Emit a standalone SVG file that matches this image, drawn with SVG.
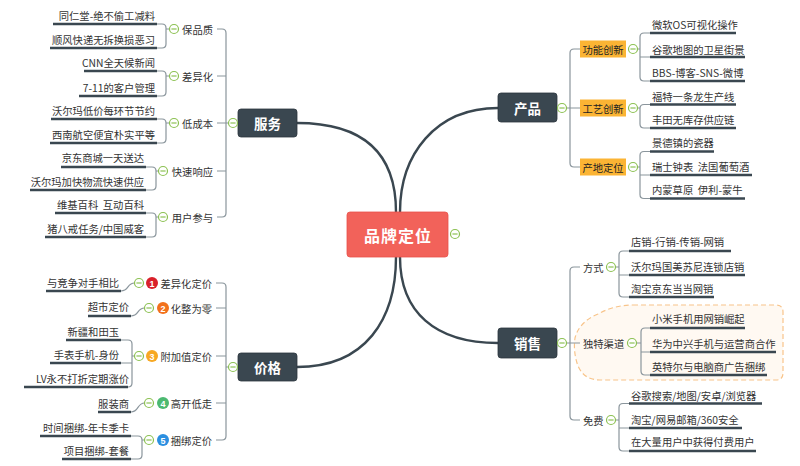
<svg xmlns="http://www.w3.org/2000/svg" xmlns:xlink="http://www.w3.org/1999/xlink" width="800" height="466" viewBox="0 0 800 466">
<defs>
<style>
text{font-family:"Noto Sans CJK SC","Liberation Sans",sans-serif;font-size:10.3px;fill:#333;dominant-baseline:central;white-space:pre}
.e{text-anchor:end}
.m{text-anchor:middle}
.main rect{fill:#3a4750;stroke:#2c363d;stroke-width:0.8}
.main text{fill:#fff;font-size:13.5px;font-weight:bold;text-anchor:middle}
.ob rect{fill:#fbb434}
.ob text{text-anchor:middle;fill:#222}
.ul{stroke:#3a4750;stroke-width:2.4;fill:none}
.cn{stroke:#8a959c;stroke-width:1.2;fill:none}
.big{stroke:#3a4750;stroke-width:2.4;fill:none}
.bd text{fill:#fff;font-family:"Liberation Sans",sans-serif;font-size:9px;font-weight:bold;text-anchor:middle}
</style>
<g id="col"><circle r="4.5" fill="#fff" stroke="#8cc152" stroke-width="1.2"/><path d="M-2.6,0H2.6" stroke="#8cc152" stroke-width="1.2"/></g>
</defs>
<rect width="800" height="466" fill="#fff"/>

<!-- boundary -->
<path d="M633,305 H776 Q783,305 783,312 V373 Q783,380 776,380 H600 Q584,380 578,366 Q573,352 575,338 Q579,322 598,314 Q614,305 633,305 Z" fill="#fff9f2" stroke="#f8c48a" stroke-width="1.2" stroke-dasharray="5,3"/>

<g id="connectors">
<!-- central -->
<path class="big" d="M396,212 C396,155 365,123 297,123"/>
<path class="big" d="M400,212 C400,155 435,108 498,108"/>
<path class="big" d="M396,257 C396,320 365,367 297,367"/>
<path class="big" d="M400,257 C400,312 435,343 498,343"/>
<!-- service trunk -->
<path class="cn" d="M217,29 H222 Q226,29 226,33 V213 Q226,217 222,217 H217 M217,76 H226 M217,123 H228.5 M217,171 H226"/>
<path class="cn" d="M157,24 H162 Q166,24 166,28 V44 Q166,48 162,48 H157 M166,29 H169.5"/>
<path class="cn" d="M157,71 H162 Q166,71 166,75 V92 Q166,96 162,96 H157 M166,76 H169.5"/>
<path class="cn" d="M157,119 H162 Q166,119 166,123 V139 Q166,143 162,143 H157 M166,123 H169.5"/>
<path class="cn" d="M146,167 H152 Q156,167 156,171 V186 Q156,190 152,190 H146 M156,171 H158.5"/>
<path class="cn" d="M146,213 H152 Q156,213 156,217 V233 Q156,237 152,237 H146 M156,217 H158.5"/>
<!-- price trunk -->
<path class="cn" d="M216,283 H222 Q226,283 226,287 V436 Q226,440 222,440 H216 M216,308 H226 M216,356 H226 M216,403 H226 M226,367 H228.5"/>
<path class="cn" d="M121,291 C129,291 127,283 134.5,283"/>
<path class="cn" d="M131,316 C139,316 137,308 144.5,308"/>
<path class="cn" d="M121,340 H128 Q132,340 132,344 V383 Q132,387 128,387 M121,363 H132 M132,356 H134.5"/>
<path class="cn" d="M131,412 C139,412 137,403 144.5,403"/>
<path class="cn" d="M131,436 H138 Q142,436 142,440 V455 Q142,459 138,459 H131 M142,440 H144.5"/>
<!-- product trunk -->
<path class="cn" d="M580,49 H574 Q570,49 570,53 V163 Q570,167 574,167 H580 M566.5,108 H580"/>
<path class="cn" d="M650,33 H644 Q640,33 640,37 V77 Q640,81 644,81 H650 M640,57 H650 M637.5,49 H640"/>
<path class="cn" d="M650,104.5 H644 Q640,104.5 640,108.5 V124 Q640,128 644,128 H650 M637.5,108 H640"/>
<path class="cn" d="M650,151.5 H644 Q640,151.5 640,155.5 V194.5 Q640,198.5 644,198.5 H650 M640,175 H650 M637.5,167 H640"/>
<!-- sales trunk -->
<path class="cn" d="M580,267 H574 Q570,267 570,271 V416 Q570,420 574,420 H580 M566.5,343 H580"/>
<path class="cn" d="M629,251 H623 Q619,251 619,255 V293 Q619,297 623,297 H629 M619,275 H629 M615.5,267 H619"/>
<path class="cn" d="M650,328 H645 Q641,328 641,332 V371 Q641,375 645,375 H650 M641,352 H650 M636.5,343 H641"/>
<path class="cn" d="M629,403.5 H623 Q619,403.5 619,407.5 V447 Q619,451 623,451 H629 M619,428 H629 M615.5,420 H619"/>
</g>

<!-- central -->
<g id="center">
<rect x="347" y="212" width="101" height="45" rx="3" fill="#f2625a" stroke="#e9524a" stroke-width="0.8"/>
<text x="398" y="234.5" class="m" style="fill:#fff;font-size:16px;font-weight:bold;letter-spacing:1px">品牌定位</text>
<use href="#col" transform="translate(455,234)"/>
</g>

<!-- 服务 -->
<g id="service" class="main">
<rect x="238" y="109" width="59" height="28" rx="3"/>
<text x="267.5" y="123">服务</text>
<use href="#col" transform="translate(233,123)"/>
</g>
<g id="s1"><text x="213" y="29" class="e">保品质</text><use href="#col" transform="translate(174,29)"/>
<text x="155" y="15.5" class="e">同仁堂-绝不偷工减料</text><path class="ul" d="M53,24H157"/>
<text x="155" y="39" class="e">顺风快递无拆换损恶习</text><path class="ul" d="M50,48H157"/></g>
<g id="s2"><text x="213" y="76" class="e">差异化</text><use href="#col" transform="translate(174,76)"/>
<text x="155" y="62" class="e">CNN全天候新闻</text><path class="ul" d="M84,71H157"/>
<text x="155" y="87" class="e">7-11的客户管理</text><path class="ul" d="M79,96H157"/></g>
<g id="s3"><text x="213" y="123" class="e">低成本</text><use href="#col" transform="translate(174,123)"/>
<text x="155" y="110" class="e">沃尔玛低价每环节节约</text><path class="ul" d="M51,119H157"/>
<text x="155" y="134" class="e">西南航空便宜朴实平等</text><path class="ul" d="M50,143H157"/></g>
<g id="s4"><text x="213" y="171" class="e">快速响应</text><use href="#col" transform="translate(163,171)"/>
<text x="144" y="157" class="e">京东商城一天送达</text><path class="ul" d="M61,167H146"/>
<text x="144" y="181" class="e">沃尔玛加快物流快速供应</text><path class="ul" d="M30,190H146"/></g>
<g id="s5"><text x="213" y="217" class="e">用户参与</text><use href="#col" transform="translate(163,217)"/>
<text x="144" y="204.5" class="e" xml:space="preserve">维基百科  互动百科</text><path class="ul" d="M55,213H146"/>
<text x="144" y="228" class="e">猪八戒任务/中国威客</text><path class="ul" d="M45,237H146"/></g>

<!-- 价格 -->
<g id="price" class="main">
<rect x="238" y="353" width="59" height="28" rx="3"/>
<text x="267.5" y="367">价格</text>
<use href="#col" transform="translate(233,367)"/>
</g>
<g id="p1"><text x="212" y="283" class="e">差异化定价</text>
<g class="bd"><circle cx="152" cy="283" r="6" fill="#d9202a"/><text x="152" y="283.5">1</text></g>
<use href="#col" transform="translate(139,283)"/>
<text x="119" y="282.5" class="e">与竞争对手相比</text><path class="ul" d="M46,291H121"/></g>
<g id="p2"><text x="212" y="308" class="e">化整为零</text>
<g class="bd"><circle cx="163" cy="308" r="6" fill="#f2711c"/><text x="163" y="308.5">2</text></g>
<use href="#col" transform="translate(149,308)"/>
<text x="129" y="306" class="e">超市定价</text><path class="ul" d="M88,316H131"/></g>
<g id="p3"><text x="212" y="356" class="e">附加值定价</text>
<g class="bd"><circle cx="152" cy="356" r="6" fill="#f7a823"/><text x="152" y="356.5">3</text></g>
<use href="#col" transform="translate(139,356)"/>
<text x="119" y="331" class="e">新疆和田玉</text><path class="ul" d="M66,340H121"/>
<text x="119" y="354" class="e">手表手机-身份</text><path class="ul" d="M50,363H121"/>
<text x="129" y="378" class="e">LV永不打折定期涨价</text><path class="ul" d="M24,387H128"/></g>
<g id="p4"><text x="212" y="403" class="e">高开低走</text>
<g class="bd"><circle cx="163" cy="403" r="6" fill="#4cb971"/><text x="163" y="403.5">4</text></g>
<use href="#col" transform="translate(149,403)"/>
<text x="129" y="403" class="e">服装商</text><path class="ul" d="M98,412H131"/></g>
<g id="p5"><text x="212" y="440" class="e">捆绑定价</text>
<g class="bd"><circle cx="163" cy="440" r="6" fill="#2b8fe0"/><text x="163" y="440.5">5</text></g>
<use href="#col" transform="translate(149,440)"/>
<text x="129" y="427" class="e">时间捆绑-年卡季卡</text><path class="ul" d="M40,436H131"/>
<text x="129" y="450" class="e">项目捆绑-套餐</text><path class="ul" d="M62,459H131"/></g>

<!-- 产品 -->
<g id="product" class="main">
<rect x="498" y="93" width="59" height="29" rx="3"/>
<text x="527.5" y="107.5">产品</text>
<use href="#col" transform="translate(562,108)"/>
</g>
<g id="r1"><g class="ob"><rect x="580" y="40.5" width="46" height="17"/><text x="603" y="49">功能创新</text></g>
<use href="#col" transform="translate(633,49)"/>
<text x="652" y="24">微软OS可视化操作</text><path class="ul" d="M650,33H736"/>
<text x="652" y="49">谷歌地图的卫星街景</text><path class="ul" d="M650,57H745"/>
<text x="652" y="72">BBS-博客-SNS-微博</text><path class="ul" d="M650,81H745"/></g>
<g id="r2"><g class="ob"><rect x="580" y="99.5" width="46" height="17"/><text x="603" y="108">工艺创新</text></g>
<use href="#col" transform="translate(633,108)"/>
<text x="652" y="96">福特一条龙生产线</text><path class="ul" d="M650,104.5H736"/>
<text x="652" y="119">丰田无库存供应链</text><path class="ul" d="M650,128H736"/></g>
<g id="r3"><g class="ob"><rect x="580" y="158.5" width="46" height="17"/><text x="603" y="167">产地定位</text></g>
<use href="#col" transform="translate(633,167)"/>
<text x="652" y="142">景德镇的瓷器</text><path class="ul" d="M650,151.5H714"/>
<text x="652" y="166" xml:space="preserve">瑞士钟表  法国葡萄酒</text><path class="ul" d="M650,175H752"/>
<text x="652" y="189.5" xml:space="preserve">内蒙草原  伊利-蒙牛</text><path class="ul" d="M650,198.5H745"/></g>

<!-- 销售 -->
<g id="sales" class="main">
<rect x="498" y="328" width="59" height="30" rx="3"/>
<text x="527.5" y="343">销售</text>
<use href="#col" transform="translate(562,343)"/>
</g>
<g id="x1"><text x="583" y="267">方式</text><use href="#col" transform="translate(611,267)"/>
<text x="631" y="241">店销-行销-传销-网销</text><path class="ul" d="M629,251H731"/>
<text x="631" y="266">沃尔玛国美苏尼连锁店销</text><path class="ul" d="M629,275H745"/>
<text x="631" y="288">淘宝京东当当网销</text><path class="ul" d="M629,297H714"/></g>
<g id="x2"><text x="583" y="343">独特渠道</text><use href="#col" transform="translate(632,343)"/>
<text x="652" y="318">小米手机用网销崛起</text><path class="ul" d="M650,328H745"/>
<text x="652" y="343">华为中兴手机与运营商合作</text><path class="ul" d="M650,352H776"/>
<text x="652" y="366">英特尔与电脑商广告捆绑</text><path class="ul" d="M650,375H767"/></g>
<g id="x3"><text x="583" y="420">免费</text><use href="#col" transform="translate(611,420)"/>
<text x="631" y="395">谷歌搜索/地图/安卓/浏览器</text><path class="ul" d="M629,403.5H762"/>
<text x="631" y="419">淘宝/网易邮箱/360安全</text><path class="ul" d="M629,428H742"/>
<text x="631" y="441">在大量用户中获得付费用户</text><path class="ul" d="M629,451H756"/></g>
</svg>
